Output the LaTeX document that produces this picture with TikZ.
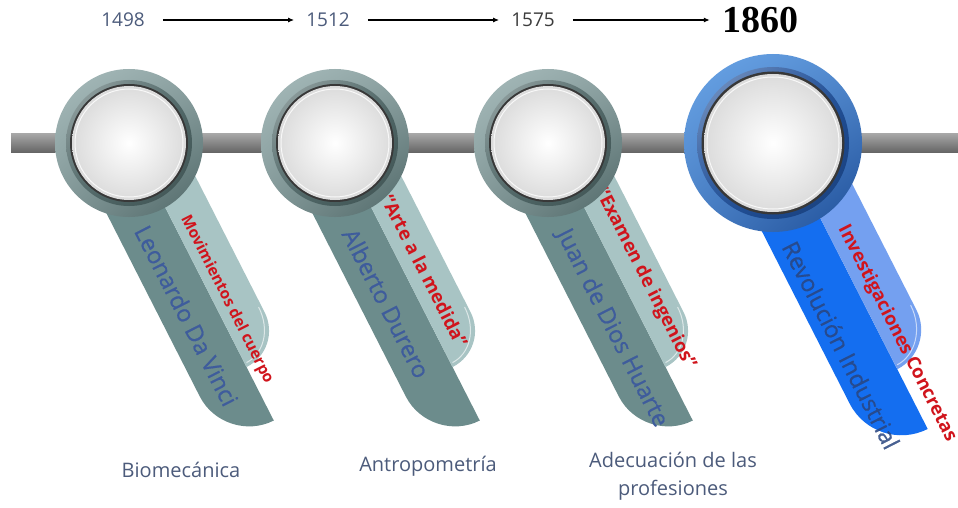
\documentclass[tikz,border=0pt]{standalone}
\usepackage{fontspec}
\setmainfont{Open Sans}
\newfontfamily\fechafont{Liberation Serif}
\newfontfamily\cintafont[FakeBold=0.6]{Open Sans}
\usetikzlibrary{arrows.meta, shadings}

\definecolor{grisaz}{HTML}{4C5B7B}
\definecolor{grisos}{HTML}{3C3C3C}
\definecolor{rojo}{HTML}{D0141C}
\definecolor{azultx}{HTML}{3E5C9C}
\definecolor{azultxos}{HTML}{2A4680}
\definecolor{cintaosc}{HTML}{6C8C8C}
\definecolor{cintacla}{HTML}{A8C4C4}
\definecolor{anillocla}{HTML}{A9BDBD}
\definecolor{anillosc}{HTML}{4F6767}
\definecolor{azulosc}{HTML}{146EF0}
\definecolor{azulcla}{HTML}{74A0F0}
\definecolor{azulanicla}{HTML}{6BA6E8}
\definecolor{azulanios}{HTML}{1E4E98}

\begin{document}
\begin{tikzpicture}[
    x=1pt, y=-1pt,
    anio/.style={font=\fontsize{19}{23}\selectfont, text=grisaz, inner sep=3pt},
    tema/.style={font=\fontsize{20}{28}\selectfont, text=grisaz, align=center},
    nombre/.style={font=\cintafont\fontsize{23.5}{28}\selectfont, text=azultx, rotate=-63, inner sep=1pt},
    obra/.style={font=\bfseries\fontsize{18.5}{22}\selectfont, text=rojo, rotate=-63, inner sep=1pt},
    flecha/.style={-{Latex[length=6pt,width=5pt]}, line width=1.1pt, shorten <=15pt, shorten >=9pt},
  ]
  \useasboundingbox (0,0) rectangle (958,508);
  \fill[white] (0,0) rectangle (958,508);

  % ---- barra horizontal -----------------------------------------------------
  \shade[top color=gray!70, middle color=gray!12, bottom color=gray!80!black]
    (11,134) rectangle (958,152);

  % ---- cintas grises (marco local: u a lo largo de la cinta) -----------------
  \foreach \cx/\i/\nom/\un/\obr/\uo/\wo/\fs in {%
      129/1/{Leonardo Da Vinci}/180/{Movimientos del cuerpo}/184/-16/15.5,
      335/2/{Alberto Durero}/166/{“Arte a la medida”}/155/-22/18.5,
      548/3/{Juan de Dios Huarte}/194/{“Examen de ingenios”}/165/-25/18.5} {
    \begin{scope}[shift={(\cx,143)}, rotate=-63]
      \fill[cintaosc] (0,-3) -- (313,-3) .. controls (313,27) and (288,52) .. (258,52)
                      -- (0,52) -- cycle;
      \fill[cintacla] (0,-44) -- (212,-44) .. controls (235,-44) and (253,-26) .. (253,-3)
                      -- (0,-3) -- cycle;
      \draw[white, opacity=0.6, line width=1pt] (205,-41) .. controls (231,-41) and (249,-24) .. (249,-5);
      \node[nombre] (nom\i) at (\un,27) {\nom};
      \node[obra, font=\bfseries\fontsize{\fs}{22}\selectfont] (obr\i) at (\uo,\wo) {\obr};
    \end{scope}
  }

  % ---- cinta azul -----------------------------------------------------------
  \begin{scope}[shift={(773,143)}, rotate=-63]
    \fill[azulosc] (0,-8) -- (325,-8) .. controls (325,24) and (299,50) .. (267,50)
                   -- (0,50) -- cycle;
    \fill[azulcla] (0,-52) -- (214,-52) .. controls (238,-52) and (258,-32) .. (258,-8)
                   -- (0,-8) -- cycle;
    \draw[white, opacity=0.6, line width=1pt] (207,-49) .. controls (234,-49) and (254,-30) .. (254,-10);
    \node[nombre, text=azultxos, text opacity=0.85] (nom4) at (211,31) {Revolución Industrial};
    \node[obra] (obr4) at (226,-24) {Investigaciones Concretas};
  \end{scope}

  % ---- anillos --------------------------------------------------------------
  \foreach \cx in {129, 335, 548} {
    \shade[upper left=anillocla, upper right=anillocla!70!anillosc,
           lower left=anillocla!55!anillosc, lower right=anillosc] (\cx,143) circle (74pt);
    \shade[upper left=anillosc!55!white, lower right=anillosc!80!black,
           upper right=anillosc, lower left=anillosc] (\cx,143) circle (63pt);
    \fill[black!78] (\cx,143) circle (59pt);
    \shade[inner color=white, outer color=black!14] (\cx,143) circle (57pt);
    \draw[white, line width=1pt, opacity=0.8] (\cx,143) circle (54pt);
  }
  \shade[upper left=azulanicla, upper right=azulanicla!70!azulanios,
         lower left=azulanicla!55!azulanios, lower right=azulanios] (773,143) circle (89pt);
  \shade[upper left=azulanios!55!white, lower right=azulanios!80!black,
         upper right=azulanios, lower left=azulanios] (773,143) circle (76pt);
  \fill[black!78] (773,143) circle (71.5pt);
  \shade[inner color=white, outer color=black!14] (773,143) circle (69pt);
  \draw[white, line width=1pt, opacity=0.8] (773,143) circle (66pt);

  % ---- fechas ---------------------------------------------------------------
  \node[anio] (a1498) at (123,20) {1498};
  \node[anio] (a1512) at (328,20) {1512};
  \node[anio, text=grisos] (a1575) at (533,20) {1575};
  \node[anio, text=black, font=\fechafont\bfseries\fontsize{38}{40}\selectfont] (a1860) at (760,20) {1860};

  \draw[flecha] (a1498) -- (a1512);
  \draw[flecha] (a1512) -- (a1575);
  \draw[flecha] (a1575) -- (a1860);

  % ---- temas ----------------------------------------------------------------
  \node[tema] (t1) at (181,470) {Biomecánica};
  \node[tema] (t2) at (428,466) {Antropometría};
  \node[tema] (t3) at (673,476) {Adecuación de las\\profesiones};

\end{tikzpicture}
\end{document}
